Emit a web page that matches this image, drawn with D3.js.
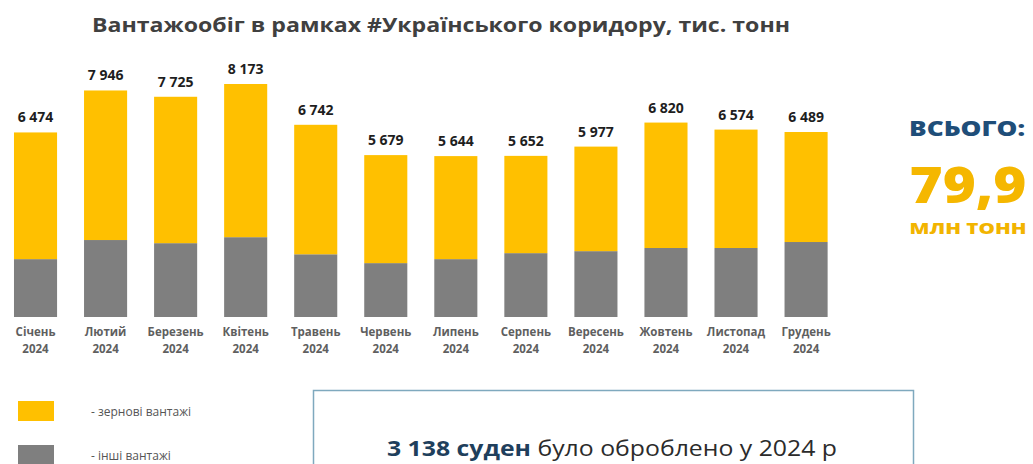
<!DOCTYPE html>
<html>
<head>
<meta charset="utf-8">
<script src="https://cdn.jsdelivr.net/npm/d3@7/dist/d3.min.js"></script>
<style>
  body { margin: 0; background: #fff; }
  svg { display: block; font-family: "Open Sans", sans-serif; }
</style>
</head>
<body>
<div class="chart"></div>
<script>
var months = ["Січень", "Лютий", "Березень", "Квітень", "Травень", "Червень",
              "Липень", "Серпень", "Вересень", "Жовтень", "Листопад", "Грудень"];
var year = "2024";
var totals = [6474, 7946, 7725, 8173, 6742, 5679, 5644, 5652, 5977, 6820, 6574, 6489];
var other = [2030, 2700, 2590, 2800, 2200, 1890, 2030, 2240, 2310, 2420, 2420, 2630];
var grain = totals.map(function (t, i) { return t - other[i]; });
var seriesNames = ["- зернові вантажі", "- інші вантажі"];
var colors = ["#FFC000", "#7F7F7F"];

function loadChart(){
  var svg = d3.select(".chart").append("svg")
              .attr("width", 1033)
              .attr("height", 464);

  // title
  svg.append("text")
     .attr("x", 92).attr("y", 32)
     .attr("textLength", 698).attr("lengthAdjust", "spacingAndGlyphs")
     .style("font-size", "20px").style("font-weight", 700)
     .style("fill", "#404040")
     .text("Вантажообіг в рамках #Українського коридору, тис. тонн");

  var data = months.map(function (m, i) {
    return { month: m, grain: grain[i], other: other[i], total: totals[i] };
  });

  var x = d3.scaleBand()
            .domain(months)
            .range([0.5, 841.1])
            .paddingInner(0.385)
            .paddingOuter(0.1925);

  var y = d3.scaleLinear()
            .domain([0, 8173])
            .range([317, 84]);

  var stack = d3.stack().keys(["other", "grain"])(data);

  var layers = svg.append("g").selectAll("g")
                  .data(stack)
                  .enter()
                  .append("g")
                  .style("fill", function (d, i) { return colors[1 - i]; });

  layers.selectAll("rect")
        .data(function (d) { return d; })
        .enter()
        .append("rect")
        .attr("x", function (d) { return x(d.data.month); })
        .attr("y", function (d) { return y(d[1]); })
        .attr("width", x.bandwidth())
        .attr("height", function (d) { return y(d[0]) - y(d[1]); });

  // total labels
  svg.append("g").selectAll("text")
     .data(data)
     .enter()
     .append("text")
     .attr("x", function (d) { return x(d.month) + x.bandwidth() / 2; })
     .attr("y", function (d) { return y(d.total) - 10; })
     .attr("text-anchor", "middle")
     .style("font-size", "14px").style("font-weight", 700)
     .style("fill", "#1e1e1e")
     .text(function (d) { return d3.format(",")(d.total).replace(",", " "); });

  // month labels
  var lab = svg.append("g").selectAll("text")
               .data(months)
               .enter()
               .append("text")
               .attr("text-anchor", "middle")
               .style("font-size", "11.5px").style("font-weight", 700)
               .style("fill", "#5f5f5f");
  lab.append("tspan")
     .attr("x", function (d) { return x(d) + x.bandwidth() / 2; })
     .attr("y", 336)
     .text(function (d) { return d; });
  lab.append("tspan")
     .attr("x", function (d) { return x(d) + x.bandwidth() / 2; })
     .attr("y", 353)
     .text(year);

  // total block on the right
  svg.append("text")
     .attr("x", 967).attr("y", 136).attr("text-anchor", "middle")
     .attr("textLength", 116).attr("lengthAdjust", "spacingAndGlyphs")
     .style("font-size", "21px").style("font-weight", 800)
     .style("fill", "#1F4E79")
     .text("ВСЬОГО:");
  svg.append("text")
     .attr("x", 968).attr("y", 203).attr("text-anchor", "middle")
     .attr("textLength", 117).attr("lengthAdjust", "spacingAndGlyphs")
     .style("font-size", "50px").style("font-weight", 800)
     .style("fill", "#F5B700")
     .text("79,9");
  svg.append("text")
     .attr("x", 968).attr("y", 234).attr("text-anchor", "middle")
     .attr("textLength", 117).attr("lengthAdjust", "spacingAndGlyphs")
     .style("font-size", "16px").style("font-weight", 800)
     .style("fill", "#F2B400")
     .text("МЛН ТОНН");

  // legend
  var leg = svg.append("g").selectAll("g")
               .data(seriesNames)
               .enter()
               .append("g")
               .attr("transform", function (d, i) { return "translate(18," + (401 + i * 44) + ")"; });
  leg.append("rect")
     .attr("width", 36).attr("height", 20)
     .style("fill", function (d, i) { return colors[i]; });
  leg.append("text")
     .attr("x", 73).attr("y", 15)
     .style("font-size", "12px")
     .style("fill", "#555")
     .text(function (d) { return d; });

  // ships box
  svg.append("rect")
     .attr("x", 313.5).attr("y", 390.5)
     .attr("width", 600).attr("height", 90)
     .style("fill", "#fff")
     .style("stroke", "#7FA9BE").style("stroke-width", 1.5);
  var t = svg.append("text")
     .attr("x", 612).attr("y", 456).attr("text-anchor", "middle")
     .attr("textLength", 450).attr("lengthAdjust", "spacingAndGlyphs")
     .style("font-size", "22px");
  t.append("tspan").style("font-weight", 700).style("fill", "#1F3F5C").text("3 138 суден");
  t.append("tspan").style("fill", "#2b2b2b").text(" було оброблено у 2024 р");
}

loadChart();
</script>
</body>
</html>
